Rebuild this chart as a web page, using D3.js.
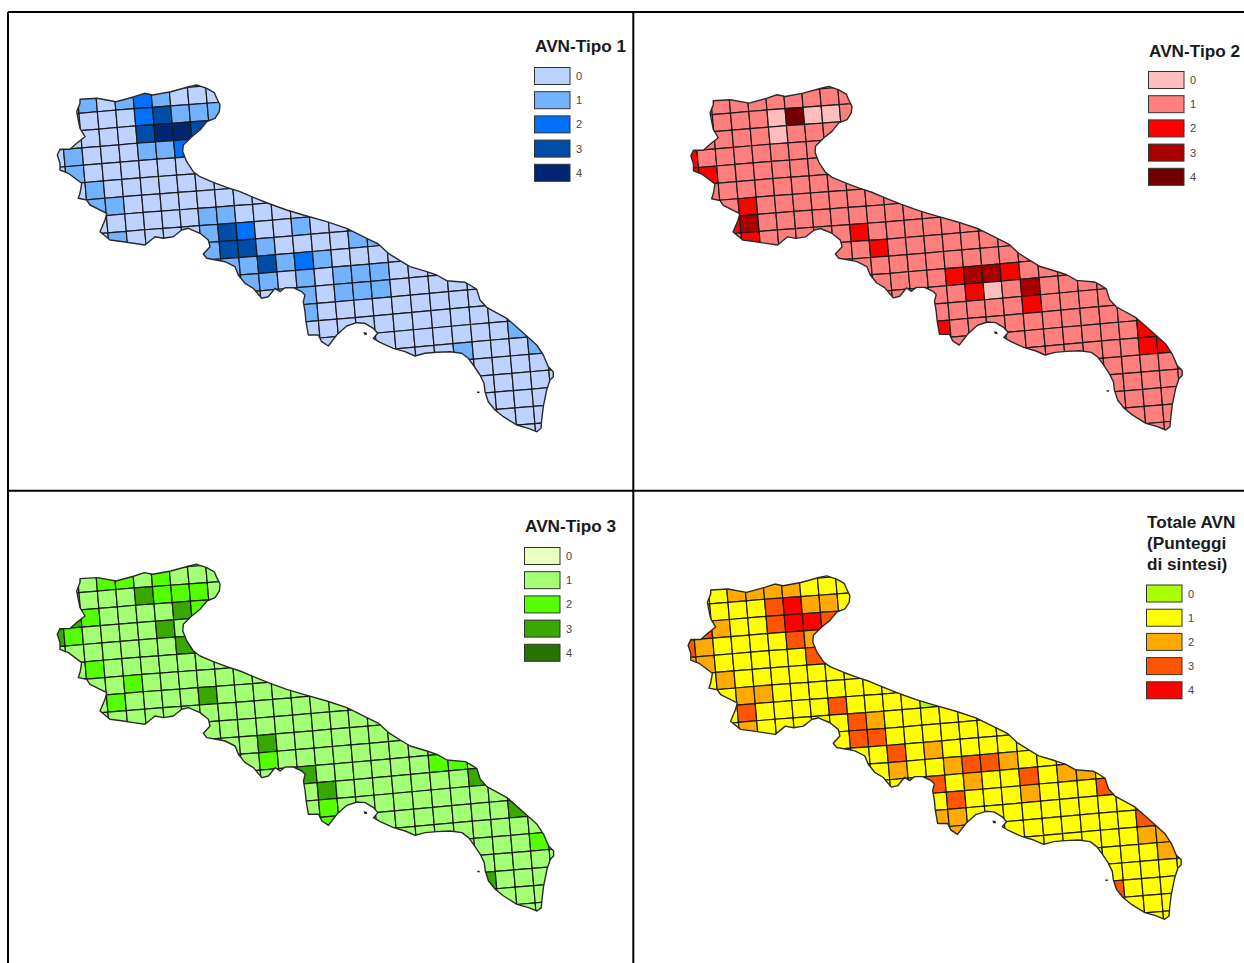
<!DOCTYPE html>
<html>
<head>
<meta charset="utf-8">
<script src="https://d3js.org/d3.v7.min.js"></script>
<style>
  html, body { margin: 0; padding: 0; background: #fff; }
  svg { display: block; }
  text { font-family: "Liberation Sans", Arial, sans-serif; }
</style>
</head>
<body>
<div id="maps"></div>
<script>
// Script to draw the four AVN maps of Puglia on the square grid

// ==========================================================
// Data: score of each grid cell, [row, col, score]
// cells not listed take the base score of the map

var legendClasses = [0, 1, 2, 3, 4];

var tipo1Base = 0;
var tipo1Cells = [
  [0,1,1],[0,3,1],[0,4,2],[0,5,1],
  [1,4,2],[1,5,3],[1,6,1],[1,7,1],[1,8,1],
  [2,4,3],[2,5,4],[2,6,4],[2,7,3],
  [3,0,1],[3,4,1],[3,5,1],[3,6,2],
  [4,0,1],[5,1,1],[6,1,1],[6,2,1],
  [7,7,1],[7,8,1],
  [8,2,1],[8,7,1],[8,8,3],[8,9,2],[8,12,1],
  [9,7,1],[9,8,3],[9,9,3],[9,10,1],[9,15,1],[9,16,1],
  [10,8,1],[10,9,1],[10,10,3],[10,11,1],[10,12,2],[10,13,1],
  [11,9,1],[11,10,1],[11,12,1],[11,14,1],[11,15,1],[11,16,1],
  [12,12,1],[12,14,1],[12,15,1],[12,16,1],
  [13,12,1],[15,23,1],[16,20,1],[16,24,1]
];

var tipo2Base = 1;
var tipo2Cells = [
  [1,4,0],[1,5,4],[1,6,0],[1,7,0],[2,4,0],
  [3,-1,2],[4,-1,2],[4,0,2],
  [6,2,2],[7,1,2],[7,2,3],[8,2,2],
  [8,8,2],[9,9,2],
  [11,13,2],[11,14,3],[11,15,3],[11,16,2],
  [12,14,2],[12,15,0],[12,17,3],
  [13,17,2],[14,12,2],
  [15,23,2],[16,23,2],[16,24,2]
];

var tipo3Base = 1;
var tipo3Cells = [
  [0,2,2],[0,3,2],[0,5,2],
  [1,4,3],[1,5,2],[1,6,2],[1,7,2],
  [2,0,3],[2,1,2],[2,6,3],[2,7,2],
  [3,-1,3],[3,0,2],[3,5,3],
  [4,6,3],[5,1,2],[6,3,2],[7,2,2],[7,7,3],
  [10,10,3],[11,10,2],
  [12,12,3],[12,19,2],[12,20,2],
  [13,13,3],[13,21,3],
  [14,13,2],[15,13,2],[15,23,3],[17,24,2],[19,21,3]
];

var totaleBase = 1;
var totaleCells = [
  [0,2,2],[0,3,2],[0,4,2],[0,5,2],
  [1,4,3],[1,5,4],[1,6,2],[1,7,2],
  [2,0,3],[2,1,2],[2,4,3],[2,5,4],[2,6,4],[2,7,3],
  [3,-1,3],[3,0,2],[3,5,3],[3,6,2],
  [4,-1,2],[4,0,2],[4,6,3],
  [5,1,2],[6,2,2],[6,3,2],
  [7,2,3],[7,7,3],[7,12,0],
  [8,2,2],[8,8,3],[8,9,2],
  [9,8,3],[9,9,3],
  [10,10,3],[10,12,2],[11,10,2],
  [11,13,2],[11,14,3],[11,15,3],[11,16,2],
  [12,12,3],[12,14,2],[12,17,3],[12,19,2],[12,20,2],
  [13,13,3],[13,17,2],[13,21,3],
  [14,12,2],[14,13,2],[15,13,2],
  [15,23,3],[16,23,2],[16,24,2],[17,24,2],[19,21,3]
];

var gridCols = d3.range(-1, 28);
var gridRows = d3.range(0, 23);

// region outline, in the map units of the first panel
var coastline = [
  [80,99.3],[97.3,98.3],[116,101.7],[134.3,96.7],[144.3,93.3],[152.7,95],[170.7,91.7],[189,86.7],
  [196.7,85],[206.7,88.3],[214.3,92.7],[216.7,98.3],[220,105],[219.3,111.7],[215,118.3],[206.7,121.7],
  [200,130],[191.7,136.7],[183.3,145],[182.7,151.7],[186.7,161.7],[193.3,171.7],[200,176.7],[213.3,182.3],
  [226.7,187.3],[240,191.7],[253.3,197.3],[270,204],[286.7,210],[303.3,215],[326.7,221.7],[346.7,228.3],
  [366.7,238.3],[378.3,244],[388.3,253.3],[400,260.7],[410,266.7],[426.7,271.7],[436.7,275],[446.7,280.7],
  [465,282.3],[470,285],[476.7,289.3],[480,300],[486.7,307.3],[506.7,318.3],[520,330],[536.7,345],
  [543.3,355],[548.3,366.7],[553.3,371.7],[553.3,376.7],[550,380],[546.7,390],[543.3,406.7],[541.7,420],
  [541,428.3],[536.7,431.7],[528.3,428.3],[516.7,425],[503.3,416.7],[495,410],[488.3,401.7],[485,391.7],
  [484,383.3],[480,375],[473.3,365],[468.3,358.3],[461.7,353.3],[450,351.7],[436.7,352.3],[425,353.3],
  [415,356],[405,351.7],[393.3,348.3],[380,342.3],[373.3,338.3],[377.7,333.3],[373.3,328.3],[365,323.3],
  [356.7,322.7],[346.7,326],[336.7,335],[328.3,346],[321.7,341.7],[318.3,335],[308.3,335],[306,321.7],
  [305,311.7],[303.3,301.7],[305,295],[301.7,291.7],[293.3,287.7],[285,287.7],[280,291.7],[275,288.3],
  [268.3,296.7],[261.7,298.3],[253.3,288.3],[245,283.3],[238.3,275],[235,266.7],[225,261.7],
  [220,260.7],[206.7,258.3],[203.3,254],[210,246.7],
  [208.3,240],[200,233.3],[188.3,228.3],[181.7,230],[173.3,236.7],[163.3,238.3],[155,236.7],[145,245],
  [133.3,243.3],[123.3,241.7],[110,240],[100,231.7],[105,220],[106.7,213.3],[90,205],[86.7,200],
  [78.3,198.3],[80,193.3],[81.7,183.3],[68.3,173.3],[60,170],[60,163.3],[57.3,155],[60,149.3],
  [70,149.3],[76.7,143.3],[85,136.7],[80,128.3],[78.3,120],[76.7,111.7],[80,103.3]
];

// small islands off the coast
var islands = [
  [[363.5,332],[366.5,332.5],[367,335],[364,334.5]],
  [[477,391.5],[479.5,391.5],[479.5,393],[477,393]]
];

// ==========================================================
// Grid geometry in map units (grid is slightly rotated)

var gridOrigin = [60.6, 97.55];
var colStep = [18.45, -1.55];
var rowStep = [1.5, 17.3];

// the printed grid drifts a little in the middle of the map
var driftX = d3.scaleLinear().domain([-1, 4, 10, 16, 21, 28]).range([-1.5, -1.7, -3, -3, 0, 0]);
var driftY = d3.scaleLinear().domain([-1, 4, 10, 16, 21, 28]).range([0, 0, 1.2, 1, 0, 0]);

function gridPoint(col, row) {
    return [
        gridOrigin[0] + col * colStep[0] + row * rowStep[0] + driftX(col),
        gridOrigin[1] + col * colStep[1] + row * rowStep[1] + driftY(col)
    ];
}

// ==========================================================
// Panels

var panels = [
  { id: "p1", title: ["AVN-Tipo 1"], base: tipo1Base, cells: tipo1Cells,
    colors: ["#BED2FF", "#73B2FF", "#0070FF", "#004DA8", "#002673"],
    xRange: [80, 537], yRange: [99.3, 431.7],
    titleX: 535, titleY: 52, legendX: 534, legendY: 67 },
  { id: "p2", title: ["AVN-Tipo 2"], base: tipo2Base, cells: tipo2Cells,
    colors: ["#FFBEBE", "#FF7F7F", "#FF0000", "#A80000", "#730000"],
    xRange: [713.3, 1166], yRange: [100.7, 430],
    titleX: 1149, titleY: 57, legendX: 1148, legendY: 71 },
  { id: "p3", title: ["AVN-Tipo 3"], base: tipo3Base, cells: tipo3Cells,
    colors: ["#E9FFBE", "#A3FF73", "#55FF00", "#38A800", "#267300"],
    xRange: [80, 537.3], yRange: [578.6, 911],
    titleX: 525, titleY: 532, legendX: 524, legendY: 547 },
  { id: "p4", title: ["Totale AVN", "(Punteggi", "di sintesi)"], base: totaleBase, cells: totaleCells,
    colors: ["#AAFF00", "#FFFF00", "#FFAA00", "#FF5500", "#FF0000"],
    xRange: [710.7, 1165], yRange: [590, 919.3],
    titleX: 1147, titleY: 528, legendX: 1146, legendY: 584.5 }
];

var svgWidth = 1244;
var svgHeight = 963;

var svg = d3.select("#maps")
  .append("svg")
  .attr("width", svgWidth)
  .attr("height", svgHeight);

svg.append("rect")
    .attr("width", svgWidth)
    .attr("height", svgHeight)
    .attr("fill", "#fff");

var defs = svg.append("defs");

// the source is a soft scan, so the maps get a very light blur
defs.append("filter")
    .attr("id", "soft")
    .attr("x", "-5%").attr("y", "-5%")
    .attr("width", "110%").attr("height", "110%")
  .append("feGaussianBlur")
    .attr("stdDeviation", 0.35);

panels.forEach(function(panel) {
    var xScale = d3.scaleLinear().domain([80, 537]).range(panel.xRange);
    var yScale = d3.scaleLinear().domain([99.3, 431.7]).range(panel.yRange);

    var ring = d3.line()
        .x(d => xScale(d[0]))
        .y(d => yScale(d[1]))
        .curve(d3.curveLinearClosed);

    var colorScale = d3.scaleOrdinal().domain(legendClasses).range(panel.colors);

    // look up cell scores
    var scores = new Map(panel.cells.map(d => [d[0] + "_" + d[1], d[2]]));
    var grid = [];
    gridRows.forEach(function(row) {
        gridCols.forEach(function(col) {
            var key = row + "_" + col;
            grid.push({ row: row, col: col, score: scores.has(key) ? scores.get(key) : panel.base });
        });
    });

    defs.append("clipPath")
        .attr("id", "clip-" + panel.id)
      .append("path")
        .attr("d", ring(coastline));

    var group = svg.append("g").attr("class", panel.id);
    var mapGroup = group.append("g").attr("filter", "url(#soft)");

    mapGroup.append("g")
        .attr("clip-path", `url(#clip-${panel.id})`)
      .selectAll("path")
      .data(grid)
      .enter()
      .append("path")
        .attr("d", d => ring([
            gridPoint(d.col, d.row),
            gridPoint(d.col + 1, d.row),
            gridPoint(d.col + 1, d.row + 1),
            gridPoint(d.col, d.row + 1)
        ]))
        .attr("fill", d => colorScale(d.score))
        .attr("stroke", "#1a1a1a")
        .attr("stroke-width", 1.2);

    mapGroup.append("path")
        .attr("d", ring(coastline))
        .attr("fill", "none")
        .attr("stroke", "#2b2b2b")
        .attr("stroke-width", 1.4)
        .attr("stroke-linejoin", "round");

    mapGroup.selectAll(".island")
      .data(islands)
      .enter()
      .append("path")
        .attr("class", "island")
        .attr("d", d => ring(d))
        .attr("fill", "#222");

    // legend
    group.selectAll(".title")
      .data(panel.title)
      .enter()
      .append("text")
        .attr("class", "title")
        .attr("x", panel.titleX)
        .attr("y", (d, i) => panel.titleY + i * 21)
        .attr("font-size", 17.2)
        .attr("font-weight", "bold")
        .attr("fill", "#1a1a1a")
        .text(d => d);

    var legendY = d3.scalePoint().domain(legendClasses)
        .range([panel.legendY, panel.legendY + 96.8]);

    var legend = group.selectAll(".legend")
      .data(legendClasses)
      .enter()
      .append("g")
        .attr("class", "legend")
        .attr("transform", d => `translate(${panel.legendX}, ${legendY(d)})`);

    legend.append("rect")
        .attr("x", 0.5)
        .attr("y", 0.5)
        .attr("width", 35.5)
        .attr("height", 17)
        .attr("fill", d => colorScale(d))
        .attr("stroke", "#333")
        .attr("stroke-width", 1);

    legend.append("text")
        .attr("x", 42)
        .attr("y", 13)
        .attr("font-size", 11)
        .attr("fill", "#444")
        .text(d => d);
});

// ==========================================================
// Frame lines between the panels

var frameLines = [
  [8, 12, 1244, 12],
  [8, 12, 8, 963],
  [633.3, 12, 633.3, 963],
  [8, 490.7, 1244, 490.7]
];

svg.selectAll(".frame")
  .data(frameLines)
  .enter()
  .append("line")
    .attr("class", "frame")
    .attr("x1", d => d[0])
    .attr("y1", d => d[1])
    .attr("x2", d => d[2])
    .attr("y2", d => d[3])
    .attr("stroke", "#000")
    .attr("stroke-width", 2);
</script>
</body>
</html>
